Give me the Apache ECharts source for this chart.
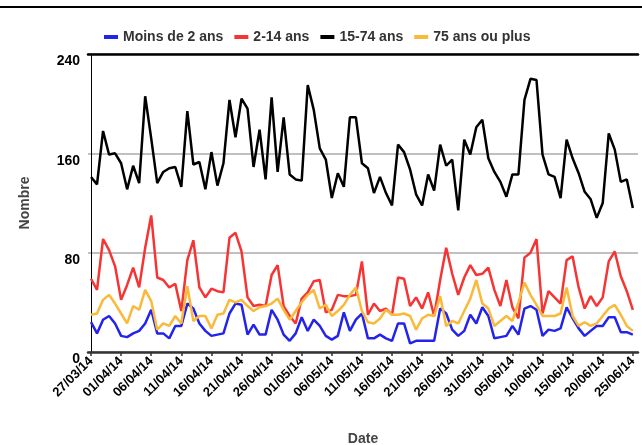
<!DOCTYPE html>
<html><head><meta charset="utf-8">
<script src="https://cdn.jsdelivr.net/npm/echarts@6/dist/echarts.min.js"></script>
<style>html,body{margin:0;padding:0;background:#fff}#c{width:642px;height:445px}</style>
</head><body><div id="c"></div>
<script>
const tickLabels = ['27/03/14','01/04/14','06/04/14','11/04/14','16/04/14','21/04/14','26/04/14','01/05/14','06/05/14','11/05/14','16/05/14','21/05/14','26/05/14','31/05/14','05/06/14','10/06/14','15/06/14','20/06/14','25/06/14'];
const seriesNames = ['Moins de 2 ans','2-14 ans','15-74 ans','75 ans ou plus'];
const moins2 = [24,15,26,29,23,13,12,15,17,23,34,15,15,11,21,21,39,35,23,17,13,14,15,31,39,38,14,22,14,14,34,26,14,9,15,28,17,26,21,13,10,13,32,17,26,31,11,11,14,11,9,23,23,7,9,9,9,9,35,31,18,13,17,30,23,36,29,11,12,13,21,14,35,37,34,13,18,17,19,36,27,19,13,17,21,21,28,28,16,16,14];
const a2_14 = [59,50,91,82,69,42,54,68,52,84,110,60,58,52,55,33,74,90,52,44,51,49,48,92,96,81,44,37,38,37,62,70,37,29,23,43,48,57,58,32,34,46,45,45,46,73,30,39,33,35,30,60,59,37,44,35,48,29,58,84,63,46,60,70,62,63,68,50,37,58,36,27,76,80,91,31,49,44,39,74,77,52,35,45,37,44,73,81,61,49,34];
const a15_74 = [141,135,178,159,160,152,131,150,136,206,172,136,145,148,149,133,194,151,153,131,161,134,152,203,173,204,196,149,179,139,205,145,189,143,139,138,215,195,164,155,124,144,133,189,189,152,148,128,141,128,118,167,161,147,127,118,143,130,167,150,155,114,171,159,181,187,156,145,137,125,143,143,203,220,219,159,143,141,124,171,156,144,129,123,108,120,176,163,137,139,116];
const a75 = [30,31,42,46,39,31,23,37,34,50,41,18,23,21,29,23,53,25,29,29,19,30,31,42,40,42,37,33,36,37,39,43,34,26,33,40,46,50,35,38,29,33,38,46,52,33,24,23,27,34,30,30,31,29,18,27,30,29,45,21,25,23,33,43,58,39,35,21,25,29,25,40,56,46,38,29,29,29,31,52,29,21,24,21,23,29,35,38,30,21,17];
const yTicks = [0,80,160,240];

const colors = ['#2323ec','#f73434','#000000','#fbb93a'];
const allData = [moins2, a2_14, a15_74, a75];
const tickPos = tickLabels.map((_, k) => k * 5);
const font = 'Liberation Sans, Arial, sans-serif';

const chart = echarts.init(document.getElementById('c'));
chart.setOption({
  animation: false,
  backgroundColor: '#fff',
  graphic: [{type:'line', shape:{x1:0,y1:7,x2:642,y2:7}, style:{stroke:'#000', lineWidth:2}}],
  legend: {
    left: 99, top: 25, itemWidth: 14, itemHeight: 4, itemGap: 11, icon: 'rect',
    textStyle: {fontFamily: font, fontWeight: 'bold', fontSize: 14, color: '#333'},
    data: seriesNames
  },
  grid: {left: 88, right: 4, top: 54, bottom: 93, outerBoundsMode: 'none', containLabel: false},
  xAxis: [{
    type: 'value', min: -0.5, max: 90.86,
    name: 'Date', nameLocation: 'middle', nameGap: 80, nameMoveOverlap: false,
    nameTextStyle: {fontFamily: font, fontWeight: 'bold', fontSize: 14, color: '#444'},
    axisLine: {show: true, lineStyle: {color: '#333', width: 2.5}},
    axisTick: {show: true, customValues: tickPos, length: 4, lineStyle: {color: '#333', width: 1.5}},
    axisLabel: {customValues: tickPos, rotate: 45, margin: 7,
      fontFamily: font, fontWeight: 'bold', fontSize: 13, color: '#000',
      formatter: v => tickLabels[Math.round(v / 5)]},
    splitLine: {show: false}
  }, {
    type: 'value', position: 'top', min: -0.5, max: 90.86,
    axisLine: {show: true, lineStyle: {color: '#000', width: 2.5}},
    axisTick: {show: false}, axisLabel: {show: false}, splitLine: {show: false}
  }],
  yAxis: {
    type: 'value', min: 0, max: 240, interval: 80,
    name: 'Nombre', nameLocation: 'middle', nameGap: 56, nameRotate: 90, nameMoveOverlap: false,
    nameTextStyle: {fontFamily: font, fontWeight: 'bold', fontSize: 14, color: '#444'},
    axisLine: {show: true, lineStyle: {color: '#000', width: 1}},
    axisTick: {show: false},
    axisLabel: {fontFamily: font, fontWeight: 'bold', fontSize: 14, color: '#000', margin: 8,
      verticalAlign: 'top', lineHeight: 15,
      verticalAlignMinLabel: 'top', verticalAlignMaxLabel: 'top',
      formatter: v => yTicks.includes(v) ? String(v) : ''},
    splitLine: {show: true, lineStyle: {color: '#c0c0c0', width: 2}}
  },
  series: allData.map((arr, k) => ({
    name: seriesNames[k], type: 'line', xAxisIndex: 0,
    data: arr.map((v, i) => [i, v]),
    showSymbol: false, symbol: 'none',
    lineStyle: {color: colors[k], width: 2.5},
    itemStyle: {color: colors[k]}
  }))
});
</script></body></html>
